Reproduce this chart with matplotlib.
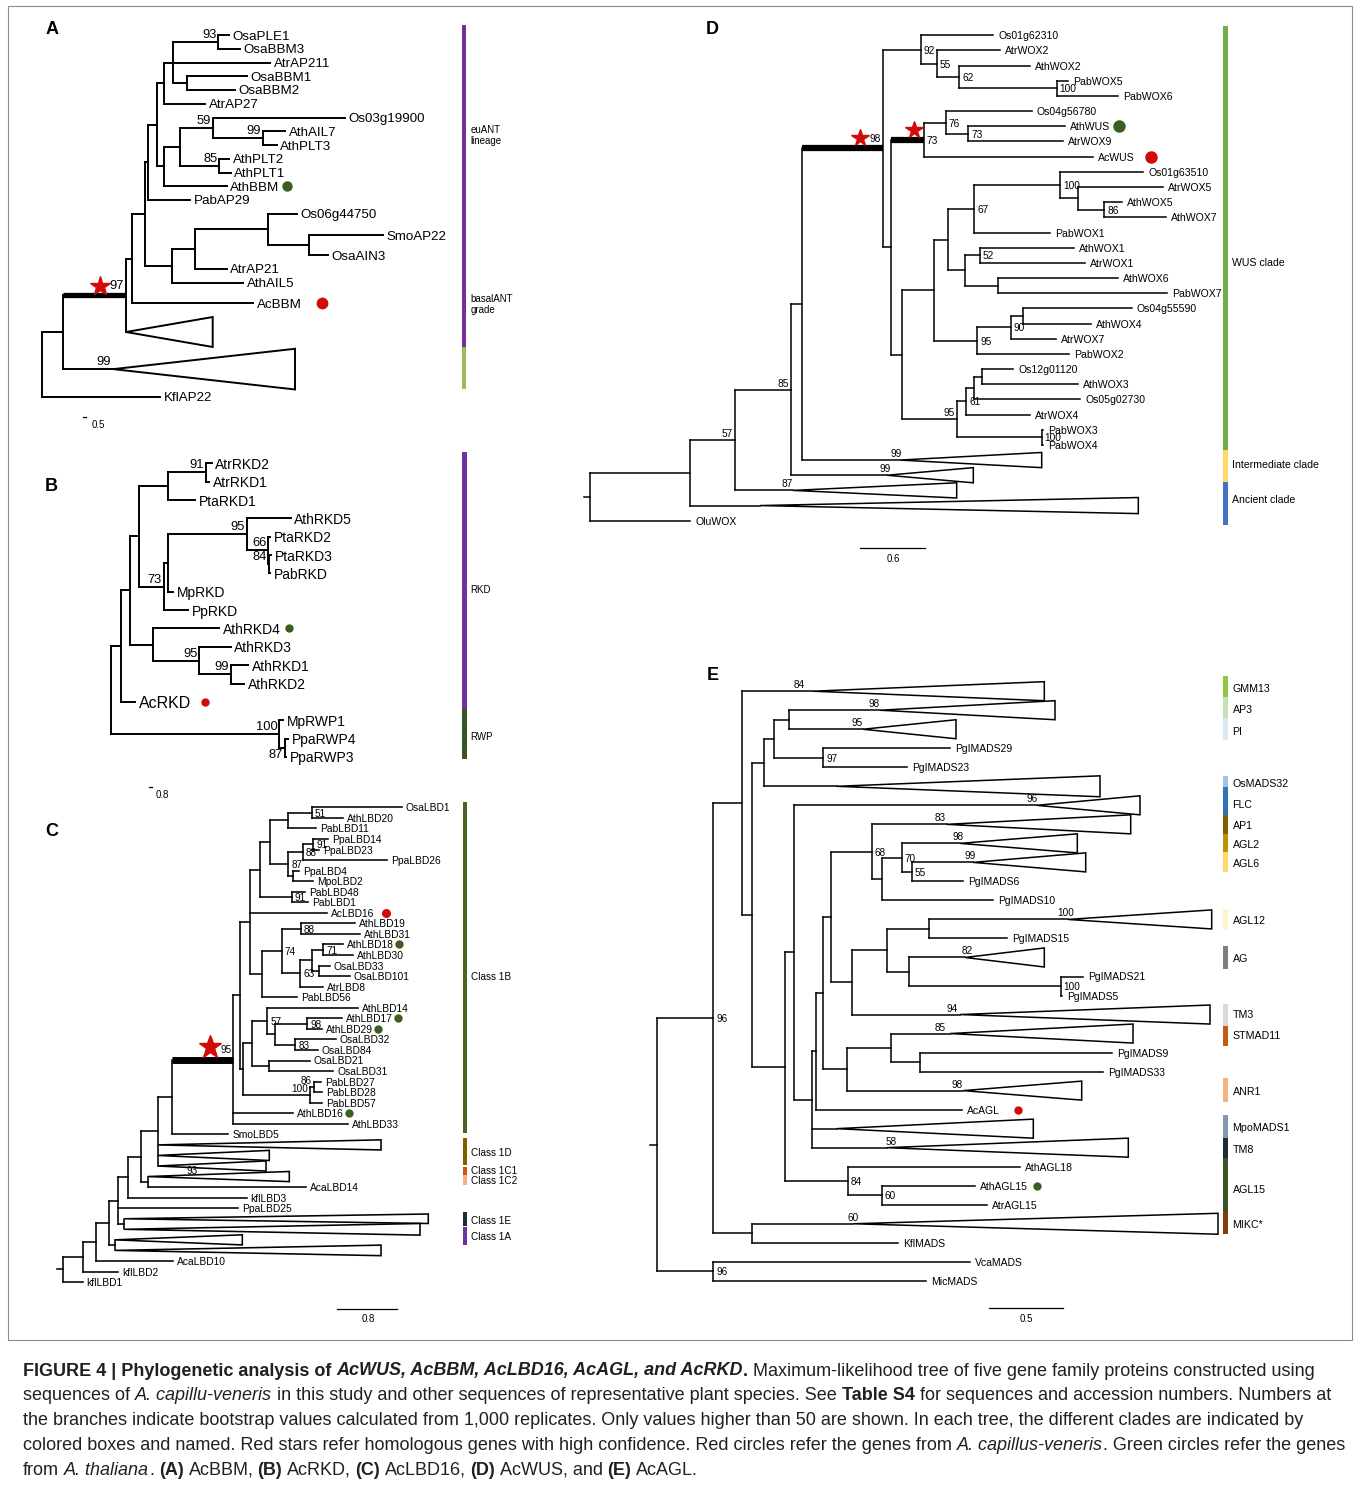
import re
import matplotlib
matplotlib.use("Agg")
import matplotlib.pyplot as plt
from matplotlib.patches import Polygon, Rectangle

# Trees in Newick form. The number after ":" is the node's distance from the
# root as printed (pixels at print scale). Internal names are bootstrap values;
# an L / R / B suffix says where the value is printed, "*" marks the thick
# branch carrying a red star. Names starting with "#" are collapsed clades.

A_TREE = ("((((((((((OsaPLE1:187,OsaBBM3:197.7)93:176,AtrAP211:227.7,(OsaBBM1:204.4,"
          "OsaBBM2:192.7):144.4):131,AtrAP27:162.7):121.7,(((Os03g19900:302.7,(AthAIL7:242.7,"
          "AthPLT3:234.4)99:221)59:171,(AthPLT2:187,AthPLT1:188.4)85:177):137.7,AthBBM:184.4)"
          ":121.7):114.4,PabAP29:147.7):105.4,(((Os06g44750:254.4,(SmoAP22:341,OsaAIN3:286)"
          ":267):226,AtrAP21:184.4):152.7,AthAIL5:201):129.4):102.7,AcBBM:211):89.4,#a1:83.7)"
          "97*:83.7,#a2:71):21,KflAP22:117.7):0;")
# collapsed clade: (right edge, half height in rows, bootstrap, label shift)
A_TRIANGLES = {"#a1": (170.4, 1.09, "", -4), "#a2": (252.7, 1.48, "99", -10)}
A_GAPS = {"SmoAP22": 0.55, "OsaAIN3": 0.45, "AcBBM": 0.5, "#a1": 1.1, "#a2": 1.7, "KflAP22": 1.0}
A_DOTS = {"AthBBM": "green", "AcBBM": "red"}
A_BARS = [(-0.73, 22.67, "#7030a0"), (22.67, 25.77, "#9bbb59")]
A_BAR_LABELS = [("euANT\nlineage", 7.3), ("basalANT\ngrade", 19.6)]

B_TREE = ("((((((AtrRKD2:101,AtrRKD1:98.6)91:95,PtaRKD1:84.3):57.6,(((AthRKD5:180,(PtaRKD2:159.3,"
          "(PtaRKD3:160.5,PabRKD:159.5)84:158.5)66:157.6)95:136,MpRKD:62.6):57.6,PpRKD:77.6)73:53.3)"
          ":28.6,(AthRKD4:108.6,(AthRKD3:120,(AthRKD1:137.6,AthRKD2:133.3)99:120)95:88.6):42):19.3,"
          "AcRKD:24.3):10,(MpRWP1:172.6,(PpaRWP4:177.3,PpaRWP3:175.3)87B:174.3)100:168.6):0;")
B_DOTS = {"AthRKD4": "green", "AcRKD": "red"}
B_BARS = [(-0.63, 13.35, "#7030a0"), (13.35, 16.13, "#375623")]
B_BAR_LABELS = [("RKD", 6.9), ("RWP", 14.9)]

C_TREE = ("((((((((((((((((OsaLBD1:339,AthLBD20:280)51:249,PabLBD11:253.3):225.6,(((PpaLBD14:265.6,"
          "PpaLBD23:256.3)91:250.6,PpaLBD26:324)88:240,(PpaLBD4:236.6,MpoLBD2:250):230)87:225.6)"
          ":207.3,(PabLBD48:242.3,PabLBD1:245.6)91:229):197.3,AcLBD16:264,(((AthLBD19:292.3,"
          "AthLBD31:297.3)88:238.3,(((AthLBD18:280.6,AthLBD30:290.6)71:260.6,(OsaLBD33:267.3,"
          "OsaLBD101:287.3):256.6):249.6,AtrLBD8:260.6)63:237.3)74:219,PabLBD56:234.6):199):187.3,"
          "(((AthLBD14:295.6,((AthLBD17:279,AthLBD29:259)98:244.6,(OsaLBD32:273.3,OsaLBD84:255)"
          "83:232.6):212.3)57:204.6,(OsaLBD21:247.3,OsaLBD31:270.6):206.6):189.6,((PabLBD27:258.3,"
          "PabLBD28:259)86L:251.3,PabLBD57:259)100L:247.3):180):177.3,AthLBD16:230,AthLBD33:285.6)"
          "95L*:170.6,SmoLBD5:165.6):109,#c1:95,#c2:95,#c3:95):95,(#c4:85,AcaLBD14:243.3):85):78,"
          "kflLBD3:184):65.6,PpaLBD25:175.6,(#c5:61.6,#c6:61.6):61.6):55.6,(#c7:52.3,#c8:52.3):52.3)"
          ":46.6,AcaLBD10:110):33.3,kflLBD2:55.6):20,kflLBD1:20):0;")
C_TRIANGLES = {"#c1": (318.3, 0.48, "", -4), "#c2": (206.6, 0.48, "", -4),
               "#c3": (203.3, 0.48, "", -4), "#c4": (226.6, 0.48, "93", 44),
               "#c5": (365.6, 0.45, "", -4), "#c6": (357.3, 0.55, "", -4),
               "#c7": (179.6, 0.48, "", -4), "#c8": (318.3, 0.5, "", -4)}
C_DOTS = {"AcLBD16": "red", "AthLBD18": "green", "AthLBD17": "green",
          "AthLBD29": "green", "AthLBD16": "green"}
C_BARS = [(-0.53, 30.9, "#4a6224"), (31.3, 33.9, "#7f6000"), (34.07, 34.85, "#c55a11"),
          (34.85, 35.8, "#f4b183"), (38.4, 39.7, "#222a35"), (39.75, 41.5, "#7030a0")]
C_BAR_LABELS = [("Class 1B", 16.06), ("Class 1D", 32.8), ("Class 1C1", 34.45),
                ("Class 1C2", 35.4), ("Class 1E", 39.2), ("Class 1A", 40.7)]

D_TREE = ("(((((((Os01g62310:403.3,(AtrWOX2:410,(AthWOX2:440,(PabWOX5:478,PabWOX6:528.3)100:466.7)"
          "62:369.3)55:347)92:331,(((Os04g56780:441.7,(AthWUS:475,AtrWOX9:473.3)73:378.3)76:356,"
          "AcWUS:502.7)73*:334,(((((Os01g63510:553.3,(AtrWOX5:573.3,(AthWOX5:531.7,AthWOX7:576)"
          "86:514):488.3)100:470,PabWOX1:460)67:384.3,((AthWOX1:484,AtrWOX1:495)52:390,"
          "(AthWOX6:528.3,PabWOX7:576.7):408.3):375):358,(((Os04g55590:541.7,AthWOX4:500.7):433.3,"
          "AtrWOX7:466)90:420.7,PabWOX2:479.3)95:387.3):344,((((Os12g01120:423.3,AthWOX3:488.3)"
          ":391.7,Os05g02730:490):384.3,AtrWOX4:440)61:376,(PabWOX3:452.7,PabWOX4:452.7)100:451.7)"
          "95L:366.7):311.7):301)98L*:293,#d1:310):212,#d2:297)85L:201,#d3:203)57L:145,#dA:170):100,"
          "OluWOX:100):0;")
D_TRIANGLES = {"#d1": (451.7, 0.5, "99", -4), "#d2": (383.3, 0.5, "99", -2),
               "#d3": (366.7, 0.5, "87", -6), "#dA": (548.3, 0.53, "", -4)}
D_DOTS = {"AthWUS": "green", "AcWUS": "red"}
D_BARS = [(-0.63, 27.34, "#70ad47"), (27.34, 29.45, "#ffd966"), (29.45, 32.28, "#4472c4")]
D_BAR_LABELS = [("WUS clade", 15.0), ("Intermediate clade", 28.3), ("Ancient clade", 30.6)]

E_TREE = ("(((#e1:155.7,((((#e2:222.7,#e3:205.7):131.7,(PgIMADS29:292.7,PgIMADS23:249.4)97:166)"
          ":116.7,#e6:179.4):106.7,((#e7:379.4,(((((#e8:289.4,((#e9:302.7,(#e10:315.7,PgIMADS6:306)"
          "55:254.4)70:244.4,PgIMADS10:336):224.4)68:214.4,(((#e11:410.7,PgIMADS15:349.4):272,"
          "(#e12:307.7,(PgIMADS21:426,PgIMADS5:404.7)100:403.4):252):230,#e14:302.7):194.4):173.4,"
          "((#e16:292.7,(PgIMADS9:454.4,PgIMADS33:445.7):262.7):233.4,#e15:306):190):165.4,"
          "AcAGL:304.4):158.7,#e13:179.4,#e18:229.4):154.4):136.7,(AthAGL18:362.7,(AthAGL15:317.7,"
          "AtrAGL15:329.4)60:224.4)84:190.4):127.7):94.4):84.4,(#e17:196,KflMADS:241):94.4)96:56,"
          "(VcaMADS:312.7,MicMADS:268.7)96:56):0;")
E_TRIANGLES = {"#e1": (387, 0.5, "84", -14), "#e2": (397.7, 0.5, "98", -6),
               "#e3": (298.7, 0.5, "95", -6), "#e6": (442.7, 0.55, "", -4),
               "#e7": (482.7, 0.5, "96", -5), "#e8": (473.4, 0.5, "83", -7),
               "#e9": (420, 0.5, "98", -2), "#e10": (428.4, 0.5, "99", -3),
               "#e11": (554.4, 0.5, "100", -2), "#e12": (387, 0.5, "82", 2),
               "#e14": (552.7, 0.5, "94", -8), "#e15": (424.4, 0.5, "98", -6),
               "#e16": (475.7, 0.5, "85", -10), "#e13": (376, 0.5, "", -4),
               "#e18": (471, 0.5, "58", 4), "#e17": (560.7, 0.55, "60", 0)}
E_DOTS = {"AcAGL": "red", "AthAGL15": "green"}
E_BARS = [(-0.8, 0.3, "#8dc63f"), (0.3, 1.41, "#c5e0b4"), (1.41, 2.57, "#dae8f6"),
          (4.46, 5.06, "#9dc3e6"), (5.06, 6.51, "#2e75b6"), (6.51, 7.51, "#7f6000"),
          (7.51, 8.48, "#bf9000"), (8.48, 9.49, "#ffd966"), (11.44, 12.55, "#fff2cc"),
          (13.4, 14.6, "#7f7f7f"), (16.47, 17.58, "#d9d9d9"), (17.58, 18.68, "#c55a11"),
          (20.35, 21.6, "#f4b183"), (22.3, 23.51, "#8497b0"), (23.51, 24.56, "#222a35"),
          (24.56, 27.33, "#375623"), (27.33, 28.54, "#843c0c")]
E_BAR_LABELS = [("GMM13", -0.13), ("AP3", 0.98), ("PI", 2.15), ("OsMADS32", 4.9), ("FLC", 5.97),
                ("AP1", 7.11), ("AGL2", 8.06), ("AGL6", 9.09), ("AGL12", 12.1), ("AG", 14.1),
                ("TM3", 17.02), ("STMAD11", 18.13), ("ANR1", 21.06), ("MpoMADS1", 22.95),
                ("TM8", 24.12), ("AGL15", 26.22), ("MIKC*", 28.04)]

CAPTION_LINES = [
    [("FIGURE 4 | Phylogenetic analysis of ", "b"), ("AcWUS, AcBBM, AcLBD16, AcAGL, and AcRKD", "bi"),
     (".", "b"), (" Maximum-likelihood tree of five gene family proteins constructed using", "")],
    [("sequences of ", ""), ("A. capillu-veneris", "i"),
     (" in this study and other sequences of representative plant species. See ", ""),
     ("Table S4", "b"), (" for sequences and accession numbers. Numbers at", "")],
    [("the branches indicate bootstrap values calculated from 1,000 replicates. Only values "
      "higher than 50 are shown. In each tree, the different clades are indicated by", "")],
    [("colored boxes and named. Red stars refer homologous genes with high confidence. Red "
      "circles refer the genes from ", ""), ("A. capillus-veneris", "i"),
     (". Green circles refer the genes", "")],
    [("from ", ""), ("A. thaliana", "i"), (". ", ""), ("(A)", "b"), (" AcBBM, ", ""), ("(B)", "b"),
     (" AcRKD, ", ""), ("(C)", "b"), (" AcLBD16, ", ""), ("(D)", "b"), (" AcWUS, and ", ""),
     ("(E)", "b"), (" AcAGL.", "")],
]

# ---- layout / style ----
TREE_FONT = "Liberation Sans"
CAP_FONT = "Liberation Sans"
RED = "#d10a0a"
DOT_COLORS = {"red": "#d10a0a", "green": "#3b5e23"}

STYLE = {
    "A": dict(root_x=42.3, top_y=35.0, row=13.75, stub=0, lw=1.4, thick=3.8, leaf_fs=9.6,
              boot_fs=9.3, side="L", pad=3.5, dot_ms=(7.5, 8.5), dot_gap=(8, 20), star_ms=15,
              star_dy=9, bar_x=461.7, bar_w=4.5, bar_fs=7.0, label_x=470.5,
              letter=(51.7, 30), scale=(83, 417, 2.5, "0.5", 92, 424.5, "left")),
    "B": dict(root_x=110.7, top_y=463.3, row=18.35, stub=0, lw=1.4, thick=3.8, leaf_fs=10.0,
              boot_fs=9.3, side="L", pad=3.5, dot_ms=(6, 6), dot_gap=(8, 14), star_ms=15,
              star_dy=9, bar_x=461.7, bar_w=5, bar_fs=7.0, label_x=470,
              letter=(51.7, 486.7), scale=(149, 787, 2.5, "0.8", 156, 794.5, "left")),
    "C": dict(root_x=62.7, top_y=807.3, row=10.55, stub=6, lw=1.15, thick=5.0, leaf_fs=7.4,
              boot_fs=7.2, side="R", pad=4, dot_ms=(6, 6.5), dot_gap=(5, 12), star_ms=17,
              star_dy=13, bar_x=462.7, bar_w=4.6, bar_fs=7.2, label_x=470.7,
              letter=(51.7, 831.7), scale=(337.3, 1309, 60, "0.8", 368.3, 1319.5, "center")),
    "D": dict(root_x=590.0, top_y=35.3, row=15.17, stub=6, lw=1.1, thick=4.5, leaf_fs=7.6,
              boot_fs=7.3, side="R", pad=5, dot_ms=(9, 9), dot_gap=(9, 17), star_ms=13,
              star_dy=10, bar_x=1222.5, bar_w=5, bar_fs=7.6, label_x=1232,
              letter=(712.7, 29), scale=(860, 548, 65, "0.6", 893, 558.5, "center")),
    "E": dict(root_x=657.3, top_y=691.2, row=19.02, stub=7, lw=1.1, thick=4.5, leaf_fs=7.5,
              boot_fs=7.2, side="R", pad=5, dot_ms=(6, 6), dot_gap=(9, 18), star_ms=13,
              star_dy=10, bar_x=1222.5, bar_w=5.5, bar_fs=7.7, label_x=1232.5,
              letter=(712.7, 675), scale=(989, 1308.3, 74.3, "0.5", 1026.7, 1318.5, "center")),
}
BIG_LEAVES = {"AcRKD": 11.5}
# caption is sized so that its third (plain) line spans this width
CAPTION_X, CAPTION_Y0, CAPTION_STEP, CAPTION_FIT_WIDTH = 23, 1375.5, 24.8, 1283


def parse_newick(text):
    s = text.replace(" ", "").rstrip(";")
    pos = 0

    def read():
        nonlocal pos
        kids = []
        if s[pos] == "(":
            pos += 1
            kids.append(read())
            while s[pos] == ",":
                pos += 1
                kids.append(read())
            pos += 1
        m = re.match(r"([^:,()]*)(?::([-0-9.]+))?", s[pos:])
        pos += m.end()
        return {"name": m.group(1), "depth": float(m.group(2) or 0), "kids": kids}

    tree = read()
    assert pos == len(s), "unbalanced tree string"
    return tree


def assign_rows(node, gaps, state):
    if not node["kids"]:
        state[0] += 1 + gaps.get(node["name"], 0)
        node["row"] = state[0]
    else:
        for k in node["kids"]:
            assign_rows(k, gaps, state)
        node["row"] = (node["kids"][0]["row"] + node["kids"][-1]["row"]) / 2


def draw_tree(ax, renderer, newick, triangles, gaps, dots, bars, bar_labels, st, letter):
    tree = parse_newick(newick)
    assign_rows(tree, gaps, [-1.0])
    X = lambda d: st["root_x"] + d
    Y = lambda r: st["top_y"] + r * st["row"]
    line = dict(color="black", lw=st["lw"], solid_capstyle="projecting")
    px_per_pt = 100 / 72

    if st["stub"]:
        ax.plot([X(0) - st["stub"], X(0)], [Y(tree["row"])] * 2, **line)

    def boot(x, y, s, ha, va):
        ax.text(x, y, s, ha=ha, va=va, fontsize=st["boot_fs"], family=TREE_FONT, zorder=4)

    def walk(n, parent_x):
        x, y = X(n["depth"]), Y(n["row"])
        name = n["name"]
        if n["kids"]:
            value, side, star = re.fullmatch(r"(\d*)([LRB]?)(\*?)", name).groups()
            side = side or st["side"]
            if parent_x is not None:
                if star:
                    ax.plot([parent_x, x], [y, y], color="black", lw=st["thick"],
                            solid_capstyle="butt", zorder=3)
                else:
                    ax.plot([parent_x, x], [y, y], **line)
            ax.plot([x, x], [Y(n["kids"][0]["row"]), Y(n["kids"][-1]["row"])], **line)
            for k in n["kids"]:
                walk(k, x)
            lift = 1 + (st["thick"] * px_per_pt / 2 if star else 0)
            if value:
                if side == "R":
                    boot(x + 3, y, value, "left", "center_baseline")
                elif side == "L":
                    boot(x - 2, y - lift, value, "right", "bottom")
                else:
                    boot(x - 2, y + 1, value, "right", "top")
            if star:
                w = len(value) * 0.556 * st["boot_fs"] * px_per_pt if side == "L" and value else 0
                sx = x - 2 - w - 10 if w else x - 10
                ax.plot(sx, y - st["star_dy"], marker="*", ms=st["star_ms"], color=RED,
                        mec=RED, zorder=5)
        elif name.startswith("#"):
            right, half, value, dx = triangles[name]
            ax.plot([parent_x, x], [y, y], **line)
            h = half * st["row"]
            ax.add_patch(Polygon([(x, y), (X(right), y - h), (X(right), y + h)], closed=True,
                                 fc="white", ec="black", lw=st["lw"], joinstyle="miter",
                                 zorder=2))
            if value:
                boot(x + dx, y - 1, value, "center", "bottom")
        else:
            ax.plot([parent_x, x], [y, y], **line)
            fs = BIG_LEAVES.get(name, st["leaf_fs"])
            t = ax.text(x + st["pad"], y, name, fontsize=fs, family=TREE_FONT,
                        ha="left", va="center_baseline", zorder=4)
            if name in dots:
                bb = t.get_window_extent(renderer)
                right_x = ax.transData.inverted().transform((bb.x1, bb.y0))[0]
                i = 0 if dots[name] == "green" else 1
                ax.plot(right_x + st["dot_gap"][i], y, "o", ms=st["dot_ms"][i],
                        color=DOT_COLORS[dots[name]], mec="none", zorder=5)

    walk(tree, None)

    for r0, r1, color in bars:
        y0 = st["top_y"] + r0 * st["row"]
        y1 = st["top_y"] + r1 * st["row"]
        ax.add_patch(Rectangle((st["bar_x"], y0), st["bar_w"], y1 - y0, fc=color, ec="none"))
    for text, r in bar_labels:
        ax.text(st["label_x"], Y(r), text, fontsize=st["bar_fs"], family=TREE_FONT,
                ha="left", va="center", linespacing=1.15)

    sx, sy, slen, slabel, lx, ly, ha = st["scale"]
    ax.plot([sx, sx + slen], [sy, sy], color="black", lw=0.9)
    ax.text(lx, ly, slabel, fontsize=7, family=TREE_FONT, ha=ha, va="center")
    ax.text(st["letter"][0], st["letter"][1], letter, fontsize=13, fontweight="bold",
            family=TREE_FONT, ha="center", va="center")


def draw_caption(ax, renderer):
    kinds = {"": ("normal", "normal"), "b": ("bold", "normal"),
             "i": ("normal", "italic"), "bi": ("bold", "italic")}

    def width(s, size, kind):
        w, sty = kinds[kind]
        t = ax.text(0, 0, "|" + s + "|", fontsize=size, family=CAP_FONT, weight=w, style=sty)
        a = t.get_window_extent(renderer).width
        t.set_text("||")
        b = t.get_window_extent(renderer).width
        t.remove()
        return a - b

    probe = 10.0
    plain = sum(width(s, probe, k) for s, k in CAPTION_LINES[2])
    size = probe * CAPTION_FIT_WIDTH / plain
    for i, runs in enumerate(CAPTION_LINES):
        x = CAPTION_X
        y = CAPTION_Y0 + i * CAPTION_STEP
        for s, k in runs:
            w, sty = kinds[k]
            lead = len(s) - len(s.lstrip(" "))
            off = width(" " * lead, size, k) if lead else 0
            ax.text(x + off, y, s.strip(" "), fontsize=size, family=CAP_FONT, weight=w,
                    style=sty, ha="left", va="baseline", color="#231f20")
            x += width(s, size, k)


fig = plt.figure(figsize=(13.6, 14.9), dpi=100)
ax = fig.add_axes([0, 0, 1, 1])
ax.set_xlim(0, 1360)
ax.set_ylim(1490, 0)
ax.axis("off")
renderer = fig.canvas.get_renderer()

ax.add_patch(Rectangle((8, 6), 1344, 1334, fill=False, ec="#8c8c8c", lw=0.8))

draw_tree(ax, renderer, A_TREE, A_TRIANGLES, A_GAPS, A_DOTS, A_BARS, A_BAR_LABELS, STYLE["A"], "A")
draw_tree(ax, renderer, B_TREE, {}, {}, B_DOTS, B_BARS, B_BAR_LABELS, STYLE["B"], "B")
draw_tree(ax, renderer, C_TREE, C_TRIANGLES, {}, C_DOTS, C_BARS, C_BAR_LABELS, STYLE["C"], "C")
draw_tree(ax, renderer, D_TREE, D_TRIANGLES, {}, D_DOTS, D_BARS, D_BAR_LABELS, STYLE["D"], "D")
draw_tree(ax, renderer, E_TREE, E_TRIANGLES, {}, E_DOTS, E_BARS, E_BAR_LABELS, STYLE["E"], "E")
draw_caption(ax, renderer)

fig.savefig("out.png", dpi=100, facecolor="white")
